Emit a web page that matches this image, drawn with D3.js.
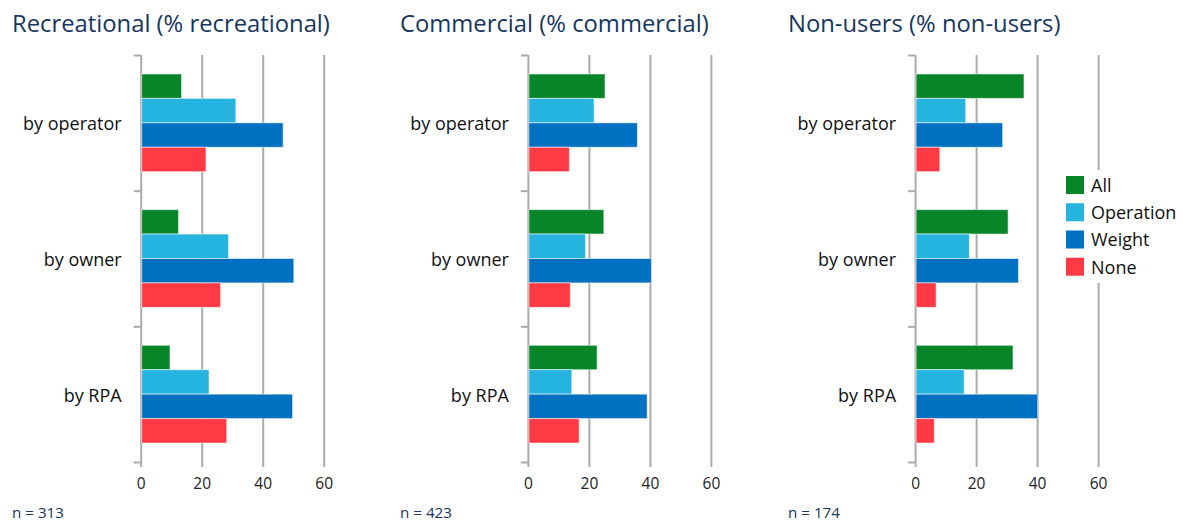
<!DOCTYPE html>
<html>
<head>
<meta charset="utf-8">
<script src="https://cdn.jsdelivr.net/npm/d3@7"></script>
<style>
  html, body { margin: 0; padding: 0; background: #fff; }
  svg { display: block; font-family: "Open Sans", "Noto Sans", sans-serif; }
</style>
</head>
<body>
<svg id="chart" width="1183" height="521"></svg>
<script>
// Survey results: share of respondents preferring each registration basis
const categories = ["by operator", "by owner", "by RPA"];
const seriesNames = ["All", "Operation", "Weight", "None"];
const seriesColors = ["#088528", "#25b3e0", "#0070c0", "#ff3a44"];
const xTicks = [0, 20, 40, 60];

const panelTitles = ["Recreational (% recreational)", "Commercial (% commercial)", "Non-users (% non-users)"];
const sampleSizes = ["n = 313", "n = 423", "n = 174"];

// values per category, in series order: All, Operation, Weight, None
const recreational = [
  [13.4, 31.2, 46.7, 21.4],
  [12.4, 28.8, 50.2, 26.2],
  [9.6, 22.4, 49.8, 28.2]
];
const commercial = [
  [25.3, 21.7, 35.9, 13.6],
  [24.9, 18.9, 40.5, 13.9],
  [22.7, 14.4, 39.1, 16.8]
];
const nonUsers = [
  [35.7, 16.6, 28.7, 8.1],
  [30.5, 17.8, 33.9, 6.9],
  [32.1, 16.1, 40.2, 6.3]
];
const panelData = [recreational, commercial, nonUsers];

const svg = d3.select("#chart");
const gridColor = "#ababab";
const plotTop = 55, plotBottom = 462;
const panelStep = 387.2;
const plotLeft = 140.7, plotWidth = 183;

const y = d3.scaleBand().domain(categories).range([plotTop, plotBottom]).paddingInner(0).paddingOuter(0);
const ySub = d3.scaleBand().domain(seriesNames).range([0, y.bandwidth()]).paddingInner(0).paddingOuter(0.776);
const bandEdges = d3.scaleLinear().domain([0, categories.length]).range([plotTop, plotBottom]);

panelData.forEach((data, i) => {
  const off = i * panelStep;
  const x = d3.scaleLinear().domain([0, 60]).range([plotLeft + off, plotLeft + off + plotWidth]);

  // title
  svg.append("text")
    .attr("x", 12 + off * 1.0021)
    .attr("y", 32)
    .attr("fill", "#17365d")
    .attr("font-size", 23.8)
    .text(panelTitles[i]);

  // sample size
  svg.append("text")
    .attr("x", 12 + off * 1.0021)
    .attr("y", 518)
    .attr("fill", "#17365d")
    .attr("font-size", 15.2)
    .text(sampleSizes[i]);

  // value axis with full-height gridlines
  const xAxis = svg.append("g")
    .attr("transform", `translate(0,${plotBottom + 5})`)
    .call(d3.axisBottom(x).tickValues(xTicks).tickSize(-(plotBottom + 5 - plotTop)).tickPadding(11).tickFormat(d3.format("d")));
  xAxis.select(".domain").remove();
  xAxis.selectAll(".tick line").attr("stroke", gridColor).attr("stroke-width", 2);
  xAxis.selectAll(".tick text")
    .attr("fill", "#222")
    .attr("font-size", 15.5)
    .attr("font-family", "\"Open Sans\", \"Noto Sans\", sans-serif");

  // category boundary ticks
  const edgeAxis = svg.append("g")
    .attr("transform", `translate(${x(0)},0)`)
    .call(d3.axisLeft(bandEdges).tickValues(d3.range(categories.length + 1)).tickSize(7).tickFormat(""));
  edgeAxis.select(".domain").remove();
  edgeAxis.selectAll(".tick line").attr("stroke", gridColor).attr("stroke-width", 2);

  // category labels
  const catAxis = svg.append("g")
    .attr("transform", `translate(${x(0) - 19},0)`)
    .call(d3.axisLeft(y).tickSize(0).tickPadding(0));
  catAxis.select(".domain").remove();
  catAxis.selectAll(".tick text")
    .attr("fill", "#111")
    .attr("font-size", 18)
    .attr("dy", "0.42em")
    .attr("font-family", "\"Open Sans\", \"Noto Sans\", sans-serif");

  // bars
  const groups = svg.append("g").selectAll("g")
    .data(categories)
    .join("g")
    .attr("transform", c => `translate(0,${y(c)})`);

  groups.selectAll("rect")
    .data((c, ci) => seriesNames.map((s, si) => ({ s, si, v: data[ci][si] })))
    .join("rect")
    .attr("x", x(0) + 1)
    .attr("y", d => ySub(d.s))
    .attr("width", d => x(d.v) - x(0) - 1)
    .attr("height", ySub.bandwidth())
    .attr("fill", d => seriesColors[d.si])
    .attr("stroke", "rgba(255,255,255,0.55)")
    .attr("stroke-width", 1);
});

// legend
const legend = svg.append("g").attr("transform", "translate(1060,170)");
legend.append("rect")
  .attr("x", 0).attr("y", 0)
  .attr("width", 123).attr("height", 113)
  .attr("fill", "#fff");
const legendScale = d3.scaleBand().domain(seriesNames).range([0, 109]);
const items = legend.selectAll("g.item")
  .data(seriesNames)
  .join("g")
  .attr("class", "item")
  .attr("transform", d => `translate(6,${legendScale(d) + 6})`);
items.append("rect")
  .attr("width", 18).attr("height", 18)
  .attr("fill", (d, i) => seriesColors[i]);
items.append("text")
  .attr("x", 25)
  .attr("y", 9)
  .attr("dy", "0.38em")
  .attr("fill", "#111")
  .attr("font-size", 18)
  .text(d => d);
</script>
</body>
</html>
